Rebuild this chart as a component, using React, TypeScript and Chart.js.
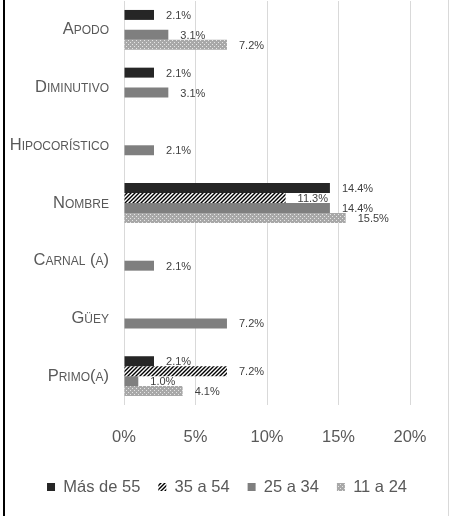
import React, { useEffect, useRef } from 'react';
import { Chart, registerables } from 'chart.js';

Chart.register(...registerables);

// categorías (de arriba hacia abajo)
const categories = ['Apodo', 'Diminutivo', 'Hipocorístico', 'Nombre', 'Carnal (a)', 'Güey', 'Primo(a)'];
const seriesNames = ['Más de 55', '35 a 54', '25 a 34', '11 a 24'];

// valores en %, null = sin dato
const masDe55 = [2.1, 2.1, null, 14.4, null, null, 2.1];
const de35a54 = [null, null, null, 11.3, null, null, 7.2];
const de25a34 = [3.1, 3.1, 2.1, 14.4, 2.1, 7.2, 1.0];
const de11a24 = [7.2, null, null, 15.5, null, null, 4.1];

const xTicks = [0, 5, 10, 15, 20];

const FONT = "'Liberation Sans', Arial, sans-serif";

function hatchPattern(ctx: CanvasRenderingContext2D) {
  const c = document.createElement('canvas');
  c.width = 4;
  c.height = 4;
  const g = c.getContext('2d')!;
  g.fillStyle = '#ffffff';
  g.fillRect(0, 0, 4, 4);
  g.strokeStyle = '#000000';
  g.lineWidth = 1.4;
  g.beginPath();
  g.moveTo(0, 4); g.lineTo(4, 0);
  g.moveTo(-1, 1); g.lineTo(1, -1);
  g.moveTo(3, 5); g.lineTo(5, 3);
  g.stroke();
  return ctx.createPattern(c, 'repeat')!;
}

function dotPattern(ctx: CanvasRenderingContext2D) {
  const c = document.createElement('canvas');
  c.width = 4;
  c.height = 4;
  const g = c.getContext('2d')!;
  g.fillStyle = '#a8a8a8';
  g.fillRect(0, 0, 4, 4);
  g.fillStyle = '#e6e6e6';
  g.fillRect(0, 0, 1, 1);
  g.fillRect(2, 2, 1, 1);
  return ctx.createPattern(c, 'repeat')!;
}

// fondo y bordes del marco
const framePlugin = {
  id: 'frame',
  beforeDraw(chart: Chart) {
    const { ctx, width, height } = chart;
    ctx.save();
    ctx.fillStyle = '#ffffff';
    ctx.fillRect(0, 0, width, height);
    ctx.fillStyle = '#000000';
    ctx.fillRect(3, 0, 2, height);
    ctx.fillStyle = '#d9d9d9';
    ctx.fillRect(448, 0, 1, height);
    ctx.restore();
  },
};

// etiquetas de categoría en versalitas
const categoryLabels = {
  id: 'categoryLabels',
  afterDraw(chart: Chart) {
    const { ctx } = chart;
    const y = chart.scales.y;
    ctx.save();
    ctx.font = `16.5px ${FONT}`;
    (ctx as any).fontVariantCaps = 'small-caps';
    ctx.fillStyle = '#595959';
    ctx.textAlign = 'right';
    ctx.textBaseline = 'middle';
    categories.forEach((c, i) => {
      ctx.fillText(c, 109, y.getPixelForValue(i));
    });
    ctx.restore();
  },
};

// etiquetas de datos
const valueLabels = {
  id: 'valueLabels',
  afterDatasetsDraw(chart: Chart) {
    const { ctx } = chart;
    ctx.save();
    ctx.font = `11px ${FONT}`;
    ctx.fillStyle = '#404040';
    ctx.textAlign = 'left';
    ctx.textBaseline = 'middle';
    chart.data.datasets.forEach((ds, di) => {
      const meta = chart.getDatasetMeta(di);
      meta.data.forEach((bar: any, i) => {
        const v = ds.data[i] as number | null;
        if (v === null || v === undefined) return;
        ctx.fillText(v.toFixed(1) + '%', bar.x + 12, bar.y + 1);
      });
    });
    ctx.restore();
  },
};

const App: React.FC = () => {
  const canvasRef = useRef<HTMLCanvasElement | null>(null);
  const chartRef = useRef<Chart | null>(null);

  useEffect(() => {
    document.body.style.margin = '0';
    if (!canvasRef.current) return;
    const ctx = canvasRef.current.getContext('2d');
    if (!ctx) return;
    if (chartRef.current) chartRef.current.destroy();

    const colors = ['#262626', hatchPattern(ctx), '#7f7f7f', dotPattern(ctx)];
    const values = [masDe55, de35a54, de25a34, de11a24];

    chartRef.current = new Chart(ctx, {
      type: 'bar',
      data: {
        labels: categories,
        datasets: seriesNames.map((name, i) => ({
          label: name,
          data: values[i],
          backgroundColor: colors[i],
          borderWidth: 0,
          categoryPercentage: 0.69,
          barPercentage: 1,
        })),
      },
      options: {
        indexAxis: 'y',
        responsive: false,
        animation: false,
        layout: { padding: { top: 1, right: 0, left: 0, bottom: 10.75 } },
        scales: {
          x: {
            min: 0,
            max: 20,
            afterBuildTicks: (axis: any) => {
              axis.ticks = xTicks.map((v) => ({ value: v }));
            },
            afterFit: (axis: any) => {
              axis.height = 55.75;
              axis.paddingRight = 44;
            },
            grid: { color: '#d9d9d9', drawTicks: false },
            border: { display: false },
            ticks: {
              padding: 23,
              color: '#595959',
              font: { size: 16.5, family: FONT },
              callback: (v: any) => v + '%',
            },
          },
          y: {
            afterFit: (axis: any) => {
              axis.width = 124;
            },
            grid: { display: false },
            border: { display: false },
            ticks: { display: false },
          },
        },
        plugins: {
          legend: {
            position: 'bottom',
            labels: {
              boxWidth: 8,
              boxHeight: 8,
              padding: 18,
              color: '#595959',
              font: { size: 16.5, family: FONT },
            },
          },
          tooltip: { enabled: false },
        },
      },
      plugins: [framePlugin, categoryLabels, valueLabels],
    });

    return () => {
      if (chartRef.current) {
        chartRef.current.destroy();
        chartRef.current = null;
      }
    };
  }, []);

  return (
    <div style={{ width: 454, height: 516 }}>
      <canvas ref={canvasRef} width="454" height="516" />
    </div>
  );
};

export default App;
